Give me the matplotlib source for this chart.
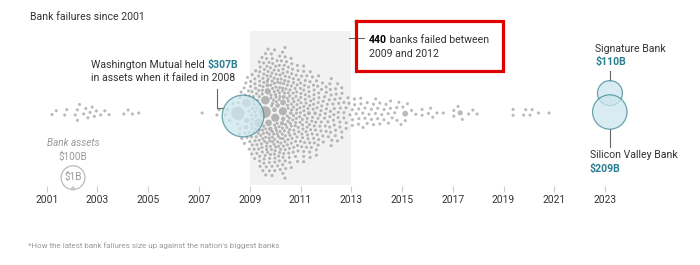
import numpy as np
import matplotlib.pyplot as plt

plt.rcParams['font.family'] = ['Roboto', 'DejaVu Sans']

# Small bank failures per month, 2008-2012 (bigger failures listed separately)
crisis_years = [2008, 2009, 2010, 2011, 2012]
crisis_monthly = [
    [1, 1, 1, 0, 1, 0, 2, 3, 2, 2, 3, 4],
    [8, 9, 9, 10, 9, 10, 14, 11, 11, 14, 12, 14],
    [14, 13, 15, 16, 14, 11, 15, 11, 11, 11, 10, 9],
    [11, 10, 9, 9, 8, 7, 9, 7, 7, 6, 4, 3],
    [7, 6, 6, 5, 5, 4, 5, 4, 3, 3, 2, 1],
]

# Failure months in the quieter years
sparse_years = [2001, 2002, 2003, 2004, 2007, 2013, 2014, 2015, 2016, 2017, 2019, 2020]
sparse_months = [
    [3, 5, 9, 10],
    [2, 3, 3, 4, 6, 7, 8, 9, 10, 11, 12],
    [2, 4, 6],
    [1, 3, 5, 8],
    [2, 9, 10],
    [1, 1, 1, 2, 2, 3, 4, 4, 4, 5, 5, 6, 6, 7, 7, 8, 8, 9, 10, 10, 11, 11, 12, 12],
    [1, 1, 2, 2, 3, 4, 4, 5, 6, 6, 7, 7, 8, 9, 10, 10, 11, 12],
    [1, 2, 3, 5, 7, 10, 10],
    [1, 2, 3, 5, 8],
    [1, 1, 3, 5, 8, 10, 12],
    [5, 5, 10, 11],
    [1, 2, 5, 10],
]
small_assets = 1.7  # $B, nominal size used for small banks

# Larger failures in the swarm
big_years = [2008, 2008, 2008, 2008, 2009, 2009, 2009, 2009, 2009, 2009, 2009, 2009,
             2009, 2010, 2010, 2010, 2010, 2010, 2010, 2010, 2011, 2011, 2015, 2017]
big_months = [7, 11, 11, 11, 5, 8, 8, 9, 12, 12, 9, 10,
              10, 4, 4, 4, 2, 4, 4, 8, 4, 7, 2, 4]
big_assets = [32, 12.8, 5.1, 3.7, 12.8, 25, 13, 7, 12, 4, 2.7, 7.8,
              3.6, 11.9, 5.9, 2.6, 3.6, 3.5, 3.4, 2.2, 3.0, 2.4, 5.9, 4.7]

# Highlighted failures
hl_names = ['Washington Mutual', 'Signature Bank', 'Silicon Valley Bank']
hl_dates = [2008 + 268 / 365, 2023 + 70 / 365, 2023 + 68 / 365]
hl_assets = [307, 110, 209]

tick_years = list(range(2001, 2024, 2))
legend_assets = [100, 1]

W, H, DPI = 700, 265, 100
px_per_sqrt = 1.19          # circle radius in px per sqrt($B)
center_y = 113

fig = plt.figure(figsize=(W / DPI, H / DPI), dpi=DPI)
ax = fig.add_axes([0, 0, 1, 1])
ax.set_xlim(1999.16, 2026.74)
ax.set_ylim(H, 0)
ax.axis('off')

def radius(a):
    return px_per_sqrt * np.sqrt(np.asarray(a, dtype=float))

def size_pts(r):
    return (2 * r * 72 / DPI) ** 2

# build the list of banks
dates, assets = [], []
for y, counts in zip(crisis_years, crisis_monthly):
    for m, c in enumerate(counts, start=1):
        dates += [y + (m - 0.5) / 12] * c
        assets += [small_assets] * c
for y, months in zip(sparse_years, sparse_months):
    dates += [y + (m - 0.5) / 12 for m in months]
    assets += [small_assets] * len(months)
dates += [y + (m - 0.5) / 12 for y, m in zip(big_years, big_months)]
assets += big_assets
dates = np.array(dates)
assets = np.array(assets)

# beeswarm start, in pixel space
xs = ax.transData.transform(np.column_stack([dates, np.zeros_like(dates)]))[:, 0]
rs = np.maximum(radius(assets), 1.5)
pad = 2.7
n = len(xs)
ys = np.zeros(n)
done = np.zeros(n, bool)
for i in np.lexsort((xs, -rs)):
    idx = np.where(done)[0]
    dx = xs[idx] - xs[i]
    reach = rs[idx] + rs[i] + pad
    near = np.abs(dx) < reach
    idx, dx, reach = idx[near], dx[near], reach[near]
    cands = [0.0]
    if len(idx):
        h = np.sqrt(reach ** 2 - dx ** 2)
        cands = np.concatenate([[0.0], ys[idx] + h, ys[idx] - h])
    for c in sorted(cands, key=lambda v: (abs(v), v)):
        if np.all((ys[idx] - c) ** 2 + dx ** 2 >= reach ** 2 - 1e-6):
            ys[i] = c
            break
    done[i] = True

# relax like a force layout: pull to date / centre line, push apart on overlap
P = np.column_stack([xs, ys])
R = rs + pad / 2
minimum = R[:, None] + R[None, :]
wt = (rs[None, :] ** 2) / (rs[:, None] ** 2 + rs[None, :] ** 2)
for it in range(500):
    d = P[:, None, :] - P[None, :, :]
    dist = np.sqrt((d ** 2).sum(-1))
    np.fill_diagonal(dist, 1e9)
    ov = np.clip(minimum - dist, 0, None)
    push = d / dist[..., None] * (ov * wt)[..., None]
    P += push.sum(1) * 0.6
    P[:, 0] += (xs - P[:, 0]) * 0.2
    P[:, 1] += (0 - P[:, 1]) * 0.003
sx = ax.transData.inverted().transform(np.column_stack([P[:, 0], np.zeros(n)]))[:, 0]

# shaded 2009-2012 band
ax.fill_between([2009, 2013], 31, 185, color='#f2f2f2', lw=0, zorder=0)

ax.scatter(sx, center_y + P[:, 1], s=size_pts(rs), color='#8c8c8c', alpha=0.6,
           lw=0, zorder=2)

# highlighted banks
hr = radius(hl_assets)
hy = [center_y + 3, center_y - 0.67 * (hr[1] + hr[2]), center_y - 1]
ax.scatter(hl_dates, hy, s=size_pts(hr), color='#cbe6ee', alpha=0.75,
           edgecolors='#3f8796', linewidths=0.9, zorder=3)

# x axis ticks
ax.vlines(tick_years, 186, 192, color='#cccccc', lw=0.8)
for yr in tick_years:
    ax.text(yr, 200, str(yr), ha='center', va='center', fontsize=7.4, color='#333333')

dark = '#333333'
teal = '#2a7f90'

fig.canvas.draw()
renderer = fig.canvas.get_renderer()

def xpx(p):
    return ax.transData.inverted().transform((p, 0))[0]

def two_part(x, y, first, second, w1, w2, c1, c2, size=7.6):
    t = ax.text(x, y, first, fontsize=size, color=c1, fontweight=w1, va='baseline')
    bb = t.get_window_extent(renderer)
    ax.text(xpx(bb.x1), y, second, fontsize=size, color=c2, fontweight=w2, va='baseline')

ax.text(xpx(30), 20, 'Bank failures since 2001', fontsize=7.6, color=dark, va='baseline')

# Washington Mutual
two_part(xpx(91), 68, 'Washington Mutual held ', '$307B', 'normal', 'bold', dark, teal)
ax.text(xpx(91), 81, 'in assets when it failed in 2008', fontsize=7.6, color=dark,
        va='baseline')
ax.plot([xpx(217), xpx(217), xpx(224)], [89, 108, 108], color='#666666', lw=0.8, zorder=1)

# 440 banks box
ax.plot([xpx(349), xpx(364)], [38, 38], color='#666666', lw=0.8)
two_part(xpx(369), 43, '440', ' banks failed between', 'bold', 'normal', 'black', dark)
ax.text(xpx(369), 57, '2009 and 2012', fontsize=7.6, color=dark, va='baseline')
ax.plot([xpx(356), xpx(503), xpx(503), xpx(356), xpx(356)], [21, 21, 70.5, 70.5, 21],
        color='#e00000', lw=2.3, solid_joinstyle='miter', zorder=4)

# Signature / SVB labels
ax.text(xpx(595), 51.5, 'Signature Bank', fontsize=7.6, color=dark, va='baseline')
ax.text(xpx(595), 65, '$110B', fontsize=7.6, color=teal, fontweight='bold', va='baseline')
ax.plot([hl_dates[1]] * 2, [71, hy[1] - hr[1]], color='#666666', lw=0.8)
ax.text(xpx(590), 158, 'Silicon Valley Bank', fontsize=7.6, color=dark, va='baseline')
ax.text(xpx(590), 172, '$209B', fontsize=7.6, color=teal, fontweight='bold', va='baseline')
ax.plot([hl_dates[2]] * 2, [hy[2] + hr[2], 147], color='#666666', lw=0.8)

# size legend
lx = xpx(73)
lr = radius(legend_assets)
bottom = 189.6
ax.scatter([lx, lx], [bottom - lr[0], bottom - lr[1]], s=size_pts(lr), facecolors='none',
           edgecolors='#bbbbbb', linewidths=0.9, zorder=3)
ax.text(lx, 146, 'Bank assets', fontsize=7.2, color='#999999', style='italic',
        ha='center', va='baseline')
ax.text(lx, 160, '$100B', fontsize=7.2, color='#999999', ha='center', va='baseline')
ax.text(lx, 177, '$1B', fontsize=7.2, color='#999999', ha='center', va='center')

ax.text(xpx(28), 248, "*How the latest bank failures size up against the nation's biggest banks",
        fontsize=5.8, color='#999999', va='baseline')

fig.savefig('out.png', dpi=DPI)
